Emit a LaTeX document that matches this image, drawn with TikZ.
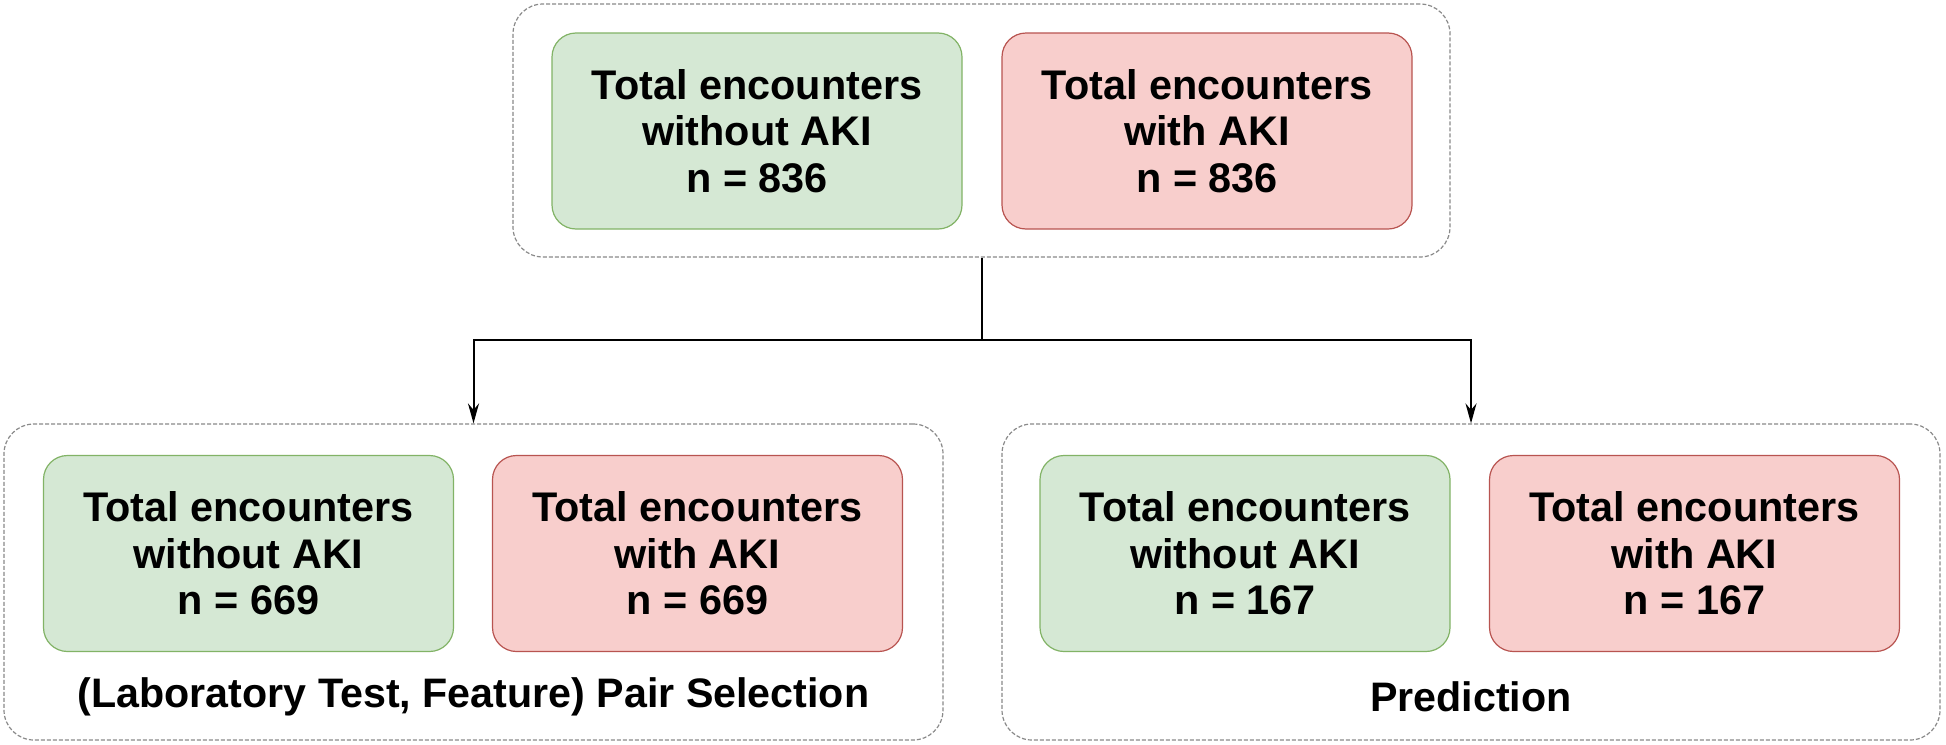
\documentclass[tikz,border=0pt]{standalone}
\usepackage{fontspec}
\setmainfont{Liberation Sans}
\usetikzlibrary{arrows.meta}
\definecolor{gfill}{HTML}{D5E8D4}
\definecolor{gdraw}{HTML}{82B366}
\definecolor{rfill}{HTML}{F8CECC}
\definecolor{rdraw}{HTML}{B85450}
\definecolor{cdraw}{HTML}{8A8A8A}
\tikzset{
  container/.style={draw=cdraw, line width=0.6pt, dash pattern=on 2pt off 1pt, rounded corners=15pt, fill=white},
  box/.style={rounded corners=12pt, line width=0.6pt, minimum width=205pt, minimum height=98pt, align=center,
    font=\fontsize{20.7}{23.3}\selectfont\bfseries, inner sep=0pt},
  gbox/.style={box, fill=gfill, draw=gdraw},
  rbox/.style={box, fill=rfill, draw=rdraw},
  lbl/.style={font=\fontsize{20.6}{23}\selectfont\bfseries, inner sep=0pt},
  conn/.style={draw=black, line width=1pt},
  arr/.style={conn, -{Stealth[length=10pt, width=5.5pt]}}
}
\begin{document}
\begin{tikzpicture}[x=0.5pt, y=-0.5pt]
\useasboundingbox[fill=white] (0,0) rectangle (1946,744);
% containers
\node[container, minimum width=468.5pt, minimum height=126.5pt] (top) at (981.5,130.5) {};
\node[container, minimum width=469.5pt, minimum height=158pt] (bl) at (473.5,582) {};
\node[container, minimum width=469pt, minimum height=158pt] (br) at (1471,582) {};
% top boxes
\node[gbox] (tg) at (757,131) {Total encounters\\without AKI\\n = 836};
\node[rbox] (tr) at (1207,131) {Total encounters\\with AKI\\n = 836};
% bottom left
\node[gbox] (blg) at (248.5,553.5) {Total encounters\\without AKI\\n = 669};
\node[rbox] (blr) at (697.5,553.5) {Total encounters\\with AKI\\n = 669};
\node[lbl] (bll) at (473.5,697) {(Laboratory Test, Feature) Pair Selection};
% bottom right
\node[gbox] (brg) at (1245,553.5) {Total encounters\\without AKI\\n = 167};
\node[rbox] (brr) at (1694.5,553.5) {Total encounters\\with AKI\\n = 167};
\node[lbl] (brl) at (1471,697) {Prediction};
% connectors
\coordinate (j) at (top.south |- 0,340);
\draw[conn] (top.south) -- (j);
\draw[arr] (j) -| (bl.north);
\draw[arr] (j) -| (br.north);
\end{tikzpicture}
\end{document}
